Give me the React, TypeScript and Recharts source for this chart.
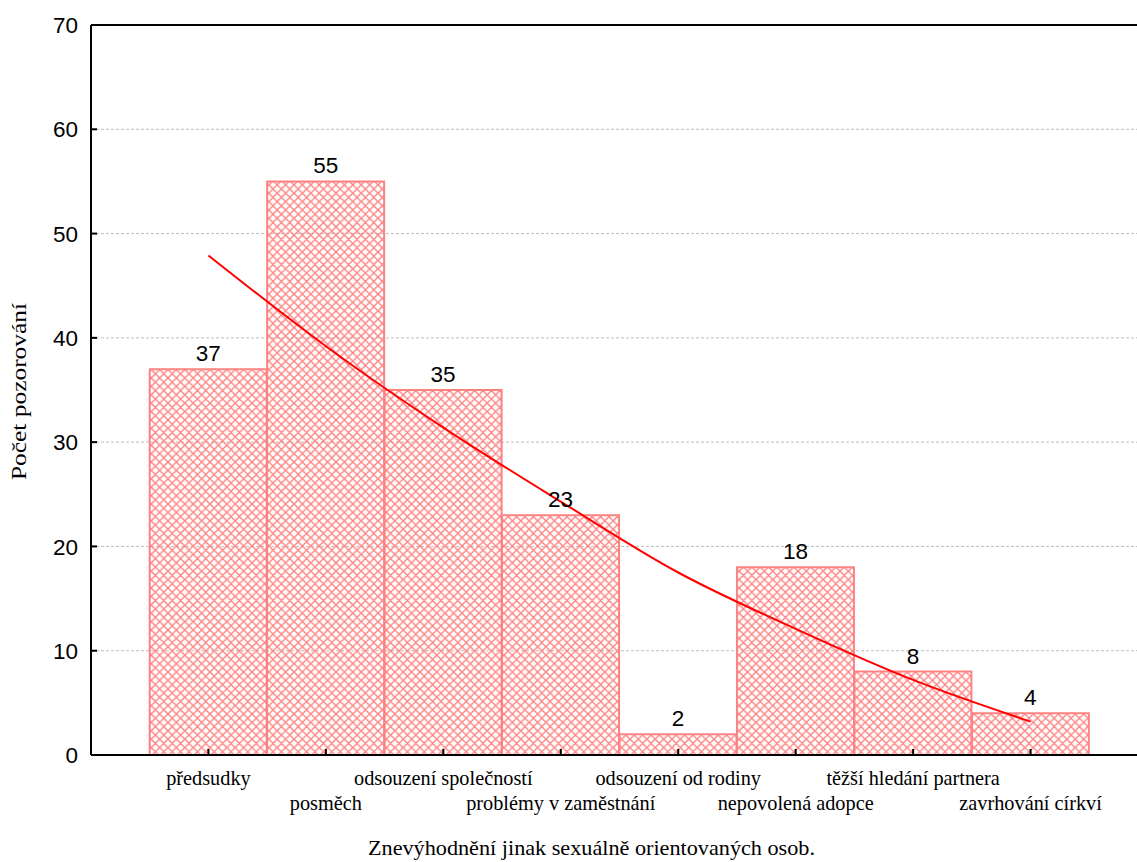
import { ComposedChart, Bar, Line, XAxis, YAxis, CartesianGrid, ReferenceLine, LabelList } from "recharts";

// values
const categories = [
  "předsudky",
  "posměch",
  "odsouzení společností",
  "problémy v zaměstnání",
  "odsouzení od rodiny",
  "nepovolená adopce",
  "těžší hledání partnera",
  "zavrhování církví",
];
const counts = [37, 55, 35, 23, 2, 18, 8, 4];
const trend = [47.9, 39.2, 31.4, 24.3, 17.5, 12.1, 7.2, 3.2];
const yTicks = [0, 10, 20, 30, 40, 50, 60, 70];

const data = categories.map((name, i) => ({ name, count: counts[i], trend: trend[i] }));

const HATCH = "#ff8282";
const SANS = "'Liberation Sans', Arial, sans-serif";
const SERIF = "'Liberation Serif', 'Times New Roman', serif";

function XTick({ x, y, payload, index }: any) {
  const row = index % 2 === 0 ? 30 : 55;
  return (
    <g>
      <line x1={x} y1={y} x2={x} y2={y - 6} stroke="#000" strokeWidth={2} />
      <text x={x} y={y + row} textAnchor="middle" fontFamily={SERIF} fontSize={20.3} fill="#000">
        {payload.value}
      </text>
    </g>
  );
}

function YTick({ x, y, payload }: any) {
  return (
    <g>
      <line x1={x + 13} y1={y} x2={x + 19} y2={y} stroke="#000" strokeWidth={2} />
      <text x={x} y={y} dy="0.36em" textAnchor="end" fontFamily={SANS} fontSize={22.5} fill="#000">
        {payload.value}
      </text>
    </g>
  );
}

function YTitle() {
  return (
    <text
      x={26}
      y={391.5}
      transform="rotate(-90 26 391.5)"
      textAnchor="middle"
      fontFamily={SERIF}
      fontSize={20}
      textLength={177}
      lengthAdjust="spacingAndGlyphs"
      fill="#000"
    >
      Počet pozorování
    </text>
  );
}

function XTitle() {
  return (
    <text
      x={591.5}
      y={855}
      textAnchor="middle"
      fontFamily={SERIF}
      fontSize={21.5}
      textLength={447}
      lengthAdjust="spacingAndGlyphs"
      fill="#000"
    >
      Znevýhodnění jinak sexuálně orientovaných osob.
    </text>
  );
}

export default function App() {
  return (
    <div style={{ position: "absolute", left: 0, top: 0, width: 1137, height: 862, overflow: "hidden", background: "#fff" }}>
      <ComposedChart
        width={1148}
        height={862}
        data={data}
        margin={{ top: 25, right: 0, bottom: 0, left: 0 }}
        barCategoryGap={0}
      >
        <defs>
          <pattern id="hatch" patternUnits="userSpaceOnUse" width={8.4} height={8.4}>
            <path
              d="M0,0 L8.4,8.4 M8.4,0 L0,8.4 M7.4,-1 L9.4,1 M-1,7.4 L1,9.4 M-1,1 L1,-1 M7.4,9.4 L9.4,7.4"
              stroke={HATCH}
              strokeWidth={1.4}
            />
          </pattern>
        </defs>
        <CartesianGrid vertical={false} stroke="#bdbdbd" strokeDasharray="3 2" />
        <XAxis
          dataKey="name"
          height={107}
          padding={{ left: 58.7, right: 58.7 }}
          tickLine={false}
          tickSize={0}
          tickMargin={0}
          interval={0}
          axisLine={{ stroke: "#000", strokeWidth: 2 }}
          tick={<XTick />}
          label={<XTitle />}
        />
        <YAxis
          width={91}
          domain={[0, 70]}
          ticks={yTicks}
          tickLine={false}
          tickSize={0}
          tickMargin={13}
          interval={0}
          axisLine={{ stroke: "#000", strokeWidth: 2 }}
          tick={<YTick />}
          label={<YTitle />}
        />
        <ReferenceLine y={70} stroke="#000" strokeWidth={2} />
        <Bar dataKey="count" fill="url(#hatch)" stroke={HATCH} strokeWidth={2} isAnimationActive={false}>
          <LabelList dataKey="count" position="top" offset={8} fill="#000" fontFamily={SANS} fontSize={22.5} />
        </Bar>
        <Line
          type="monotone"
          dataKey="trend"
          stroke="#ff0000"
          strokeWidth={2}
          dot={false}
          activeDot={false}
          isAnimationActive={false}
        />
      </ComposedChart>
    </div>
  );
}
